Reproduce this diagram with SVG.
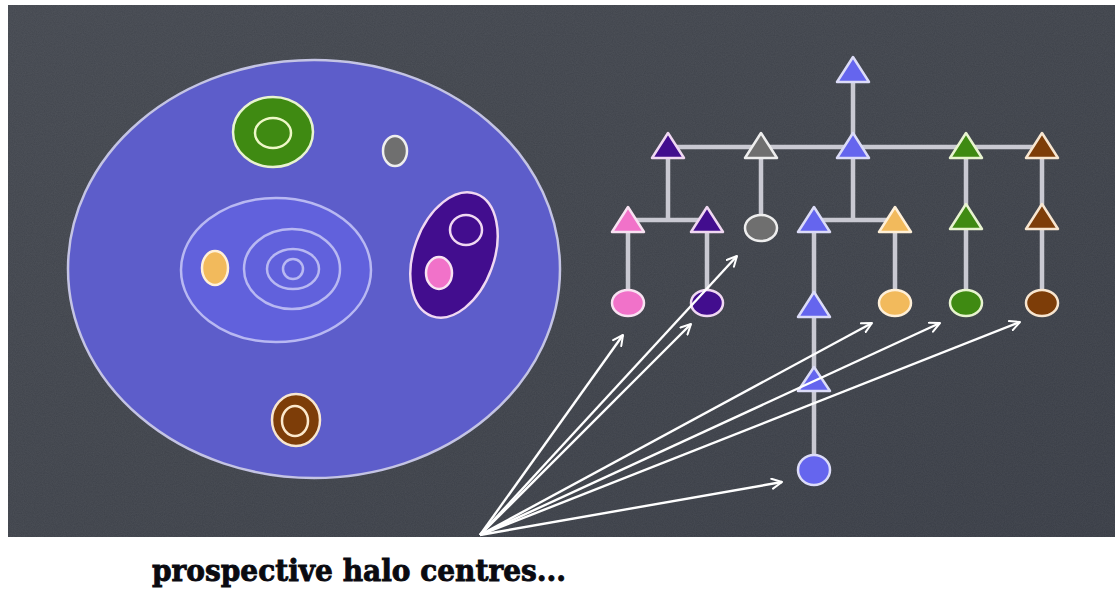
<svg xmlns="http://www.w3.org/2000/svg" width="1115" height="590" viewBox="0 0 1115 590">
  <defs>
    <linearGradient id="board" x1="0" y1="0" x2="1" y2="1">
      <stop offset="0" stop-color="#43474f"/>
      <stop offset="0.5" stop-color="#3e424a"/>
      <stop offset="1" stop-color="#383c45"/>
    </linearGradient>
    <filter id="chalk" x="0" y="0" width="100%" height="100%">
      <feTurbulence type="fractalNoise" baseFrequency="0.9" numOctaves="2" seed="3" result="n"/>
      <feColorMatrix in="n" type="matrix" values="0 0 0 0 1  0 0 0 0 1  0 0 0 0 1  0 0 0 0.07 0"/>
    </filter>
    <marker id="head" viewBox="0 0 12 12" refX="11" refY="6" markerWidth="12" markerHeight="12" markerUnits="userSpaceOnUse" orient="auto">
      <path d="M1,1 L11,6 L1,11" fill="none" stroke="#ffffff" stroke-width="2" stroke-linecap="round" stroke-linejoin="round"/>
    </marker>
    <style>
      .halo { stroke-width: 2.5; }
      .ring { fill: none; stroke-width: 2.5; }
      .link { stroke: #c9c9d2; stroke-width: 4.5; fill: none; }
      .tri { stroke-width: 2.5; stroke-linejoin: round; }
      .dot { stroke-width: 2.5; }
      .arrow { stroke: #ffffff; stroke-width: 2.4; fill: none; marker-end: url(#head); }
      .caption { font-family: "DejaVu Serif", "Liberation Serif", serif; font-weight: bold; font-size: 30px; fill: #0a0a10; stroke: #0a0a10; stroke-width: 0.9; }
      .blue { fill: #6565ee; stroke: #dcdcf8; }
      .purple { fill: #420d8e; stroke: #f0d8f2; }
      .grey { fill: #6f6f6f; stroke: #eeeeee; }
      .green { fill: #3f8a12; stroke: #e8f4d0; }
      .brown { fill: #7d3d08; stroke: #f8e6d0; }
      .pink { fill: #f172c9; stroke: #f8e2f2; }
      .yellow { fill: #f2ba5c; stroke: #fff0d8; }
    </style>
  </defs>

  <!-- chalkboard -->
  <rect x="8" y="5" width="1107" height="532" fill="url(#board)"/>
  <rect x="8" y="5" width="1107" height="532" filter="url(#chalk)"/>

  <!-- simulation volume with its haloes -->
  <g id="volume">
    <ellipse cx="314" cy="269" rx="246" ry="209" fill="#5d5dca" stroke="#c4c4e4" stroke-width="2.5"/>
  </g>
  <g id="halo-green">
    <ellipse cx="273" cy="132" rx="40" ry="35" class="halo green"/>
    <ellipse cx="273" cy="133" rx="18" ry="15" class="ring" stroke="#eef8c8" stroke-width="3"/>
  </g>
  <g id="halo-grey">
    <ellipse cx="395" cy="151" rx="12" ry="15" class="halo grey"/>
  </g>
  <g id="halo-central">
    <ellipse cx="276" cy="270" rx="95" ry="72" fill="#6161dc" stroke="#b8b8f2" stroke-width="2.5"/>
    <ellipse cx="292" cy="269" rx="48" ry="40" class="ring" stroke="#b8b8f2"/>
    <ellipse cx="293" cy="269" rx="26" ry="20" class="ring" stroke="#b8b8f2"/>
    <ellipse cx="293" cy="269" rx="10" ry="10" class="ring" stroke="#b8b8f2"/>
  </g>
  <g id="halo-yellow">
    <ellipse cx="215" cy="268" rx="13" ry="17" class="halo yellow"/>
  </g>
  <g id="halo-purple">
    <ellipse cx="454" cy="255" rx="40" ry="65" transform="rotate(20 454 255)" class="halo purple"/>
    <ellipse cx="466" cy="230" rx="16" ry="15" class="ring" stroke="#f0d8f2"/>
  </g>
  <g id="halo-pink">
    <ellipse cx="439" cy="273" rx="13" ry="16" class="halo pink"/>
  </g>
  <g id="halo-brown">
    <ellipse cx="296" cy="420" rx="24" ry="26" class="halo brown"/>
    <ellipse cx="295" cy="421" rx="13" ry="15" class="ring" stroke="#fbe8cc"/>
  </g>

  <!-- merger tree branches -->
  <g id="tree-links">
    <path class="link" d="M853,82 V147 M668,147 H1042 M668,147 V220 M628,220 H707 M628,220 V303 M707,220 V303 M761,147 V228 M853,147 V220 M814,220 H895 M814,220 V470 M895,220 V303 M966,147 V303 M1042,147 V303"/>
  </g>

  <!-- merger tree nodes -->
  <g id="node-root"><polygon class="tri blue" points="853,57 869,82 837,82"/></g>
  <g id="node-purple-a"><polygon class="tri purple" points="668,133 684,158 652,158"/></g>
  <g id="node-grey-a"><polygon class="tri grey" points="761,133 777,158 745,158"/></g>
  <g id="node-blue-a"><polygon class="tri blue" points="853,133 869,158 837,158"/></g>
  <g id="node-green-a"><polygon class="tri green" points="966,133 982,158 950,158"/></g>
  <g id="node-brown-a"><polygon class="tri brown" points="1042,133 1058,158 1026,158"/></g>

  <g id="node-pink-b"><polygon class="tri pink" points="628,207 644,232 612,232"/></g>
  <g id="node-purple-b"><polygon class="tri purple" points="707,207 723,232 691,232"/></g>
  <g id="node-grey-b"><ellipse class="dot grey" cx="761" cy="228" rx="16" ry="13"/></g>
  <g id="node-blue-b"><polygon class="tri blue" points="814,207 830,232 798,232"/></g>
  <g id="node-yellow-b"><polygon class="tri yellow" points="895,207 911,232 879,232"/></g>
  <g id="node-green-b"><polygon class="tri green" points="966,204 982,229 950,229"/></g>
  <g id="node-brown-b"><polygon class="tri brown" points="1042,204 1058,229 1026,229"/></g>

  <g id="node-pink-c"><ellipse class="dot pink" cx="628" cy="303" rx="16" ry="13"/></g>
  <g id="node-purple-c"><ellipse class="dot purple" cx="707" cy="303" rx="16" ry="13"/></g>
  <g id="node-blue-c"><polygon class="tri blue" points="814,292 830,317 798,317"/></g>
  <g id="node-yellow-c"><ellipse class="dot yellow" cx="895" cy="303" rx="16" ry="13"/></g>
  <g id="node-green-c"><ellipse class="dot green" cx="966" cy="303" rx="16" ry="13"/></g>
  <g id="node-brown-c"><ellipse class="dot brown" cx="1042" cy="303" rx="16" ry="13"/></g>

  <g id="node-blue-d"><polygon class="tri blue" points="814,367 830,391 798,391"/></g>
  <g id="node-blue-e"><ellipse class="dot blue" cx="814" cy="470" rx="16" ry="15"/></g>

  <!-- pointers from the caption to the candidate centres -->
  <g id="pointers">
    <line class="arrow" x1="480" y1="535" x2="623" y2="335"/>
    <line class="arrow" x1="480" y1="535" x2="737" y2="256"/>
    <line class="arrow" x1="480" y1="535" x2="691" y2="324"/>
    <line class="arrow" x1="480" y1="535" x2="872" y2="323"/>
    <line class="arrow" x1="480" y1="535" x2="940" y2="323"/>
    <line class="arrow" x1="480" y1="535" x2="1020" y2="322"/>
    <line class="arrow" x1="480" y1="535" x2="782" y2="482"/>
  </g>

  <g id="caption">
    <text class="caption" x="152" y="581" textLength="414" lengthAdjust="spacingAndGlyphs">prospective halo centres...</text>
  </g>
</svg>
